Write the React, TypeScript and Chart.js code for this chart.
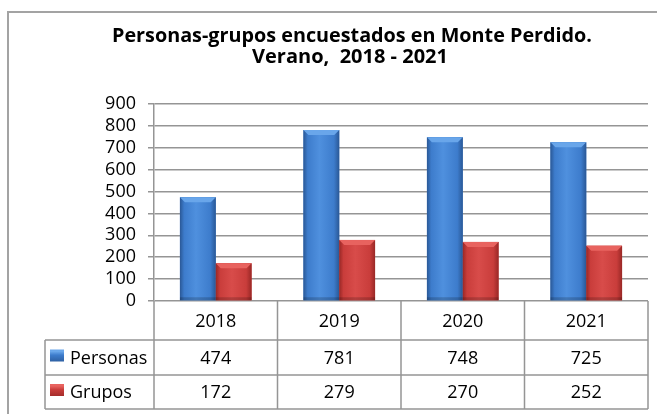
import React, { useEffect, useRef } from "react";
import { Chart, registerables } from "chart.js";

Chart.register(...registerables);

const titleLines = ["Personas-grupos encuestados en Monte Perdido.", "Verano,  2018 - 2021"];
const categories = ["2018", "2019", "2020", "2021"];
const seriesNames = ["Personas", "Grupos"];
const personas = [474, 781, 748, 725];
const grupos = [172, 279, 270, 252];
const yMin = 0;
const yMax = 900;
const yStep = 100;

const FONT = '"Open Sans", "Noto Sans", sans-serif';
const GRID = "#959595";

const palette = [
  { face: "#3d7ccc", light: "#4f90de", dark: "#2a5896", top: "#69a6ea" },
  { face: "#c93d3b", light: "#d84c4a", dark: "#992826", top: "#e8635f" },
];

const decorPlugin = {
  id: "decor",
  beforeDraw(chart: any) {
    const ctx = chart.ctx;
    ctx.save();
    ctx.fillStyle = "#ffffff";
    ctx.fillRect(0, 0, chart.width, chart.height);
    ctx.strokeStyle = "#a3a3a3";
    ctx.lineWidth = 2;
    ctx.strokeRect(8, 12, chart.width + 40, chart.height + 40);
    ctx.fillStyle = "#000";
    ctx.font = "bold 20px " + FONT;
    ctx.textAlign = "center";
    ctx.textBaseline = "alphabetic";
    ctx.fillText(titleLines[0], 352, 42, 480);
    ctx.fillText(titleLines[1], 350, 63, 196);
    ctx.restore();
  },
  afterDatasetsDraw(chart: any) {
    const ctx = chart.ctx;
    ctx.save();
    chart.data.datasets.forEach((ds: any, di: number) => {
      const meta = chart.getDatasetMeta(di);
      const p = palette[di];
      meta.data.forEach((bar: any) => {
        const l = bar.x - bar.width / 2;
        const r = bar.x + bar.width / 2;
        const t = bar.y;
        const b = bar.base;
        const w = r - l;
        const g = ctx.createLinearGradient(l, 0, r, 0);
        g.addColorStop(0, p.dark);
        g.addColorStop(0.12, p.face);
        g.addColorStop(0.45, p.light);
        g.addColorStop(0.85, p.face);
        g.addColorStop(1, p.dark);
        ctx.fillStyle = g;
        ctx.fillRect(l, t, w, b - t);
        const bev = 5;
        ctx.fillStyle = p.top;
        ctx.beginPath();
        ctx.moveTo(l, t);
        ctx.lineTo(r, t);
        ctx.lineTo(r - bev, t + bev);
        ctx.lineTo(l + bev, t + bev);
        ctx.closePath();
        ctx.fill();
        ctx.fillStyle = "rgba(0,0,0,0.18)";
        ctx.fillRect(l, b - 3, w, 3);
      });
    });
    ctx.restore();
  },
  afterDraw(chart: any) {
    const ctx = chart.ctx;
    const area = chart.chartArea;
    const xs = chart.scales.x;
    const n = categories.length;
    const cw = (area.right - area.left) / n;
    const top = area.bottom;
    const r1 = top + 39;
    const r2 = r1 + 35;
    const r3 = r2 + 34;
    const labelLeft = 45;
    ctx.save();
    ctx.strokeStyle = GRID;
    ctx.lineWidth = 1.5;
    ctx.beginPath();
    for (let i = 0; i <= n; i++) {
      const bx = i < n ? xs.getPixelForValue(i) - cw / 2 : xs.getPixelForValue(n - 1) + cw / 2;
      ctx.moveTo(bx, top);
      ctx.lineTo(bx, r3);
    }
    ctx.moveTo(labelLeft, r1);
    ctx.lineTo(labelLeft, r3);
    [r1, r2, r3].forEach((yy) => {
      ctx.moveTo(labelLeft, yy);
      ctx.lineTo(area.right, yy);
    });
    ctx.stroke();

    ctx.fillStyle = "#000";
    ctx.font = "18px " + FONT;
    ctx.textAlign = "center";
    ctx.textBaseline = "middle";
    categories.forEach((c, i) => {
      const cx = xs.getPixelForValue(i);
      ctx.fillText(c, cx, (top + r1) / 2 + 1);
      ctx.fillText(String(personas[i]), cx, (r1 + r2) / 2 + 1);
      ctx.fillText(String(grupos[i]), cx, (r2 + r3) / 2 + 1);
    });
    const rows = [(r1 + r2) / 2, (r2 + r3) / 2];
    rows.forEach((cy, k) => {
      const p = palette[k];
      const g = ctx.createLinearGradient(0, cy - 6, 0, cy + 6);
      g.addColorStop(0, p.top);
      g.addColorStop(0.3, p.face);
      g.addColorStop(1, p.dark);
      ctx.fillStyle = g;
      ctx.fillRect(50, cy - 8, 14, 12);
      ctx.fillStyle = "#000";
      ctx.textAlign = "left";
      ctx.fillText(seriesNames[k], 70, cy + 1, 79);
    });
    ctx.restore();
  },
};

export default function App() {
  const ref = useRef<HTMLCanvasElement>(null);
  useEffect(() => {
    if (!ref.current) return;
    const chart = new Chart(ref.current, {
      type: "bar",
      data: {
        labels: categories,
        datasets: [
          { label: seriesNames[0], data: personas, backgroundColor: palette[0].face },
          { label: seriesNames[1], data: grupos, backgroundColor: palette[1].face },
        ],
      },
      options: {
        animation: false,
        responsive: false,
        maintainAspectRatio: false,
        layout: { padding: { left: 0, right: 9, top: 104, bottom: 113 } },
        datasets: { bar: { categoryPercentage: 0.58, barPercentage: 1.0 } },
        plugins: { legend: { display: false }, title: { display: false }, tooltip: { enabled: false } },
        scales: {
          x: { display: false },
          y: {
            min: yMin,
            max: yMax,
            afterFit: (s: any) => {
              s.width = 154;
            },
            ticks: { stepSize: yStep, autoSkip: false, color: "#000", font: { family: FONT, size: 18 }, padding: 12 },
            grid: { color: GRID, lineWidth: 1.5, tickLength: 6, drawTicks: true },
            border: { color: GRID, width: 1.5 },
          },
        },
      },
      plugins: [decorPlugin],
    });
    return () => chart.destroy();
  }, []);
  return (
    <div style={{ position: "fixed", left: 0, top: 0, width: 657, height: 414, background: "#fff" }}>
      <canvas ref={ref} width={657} height={414} style={{ width: 657, height: 414, display: "block" }} />
    </div>
  );
}
